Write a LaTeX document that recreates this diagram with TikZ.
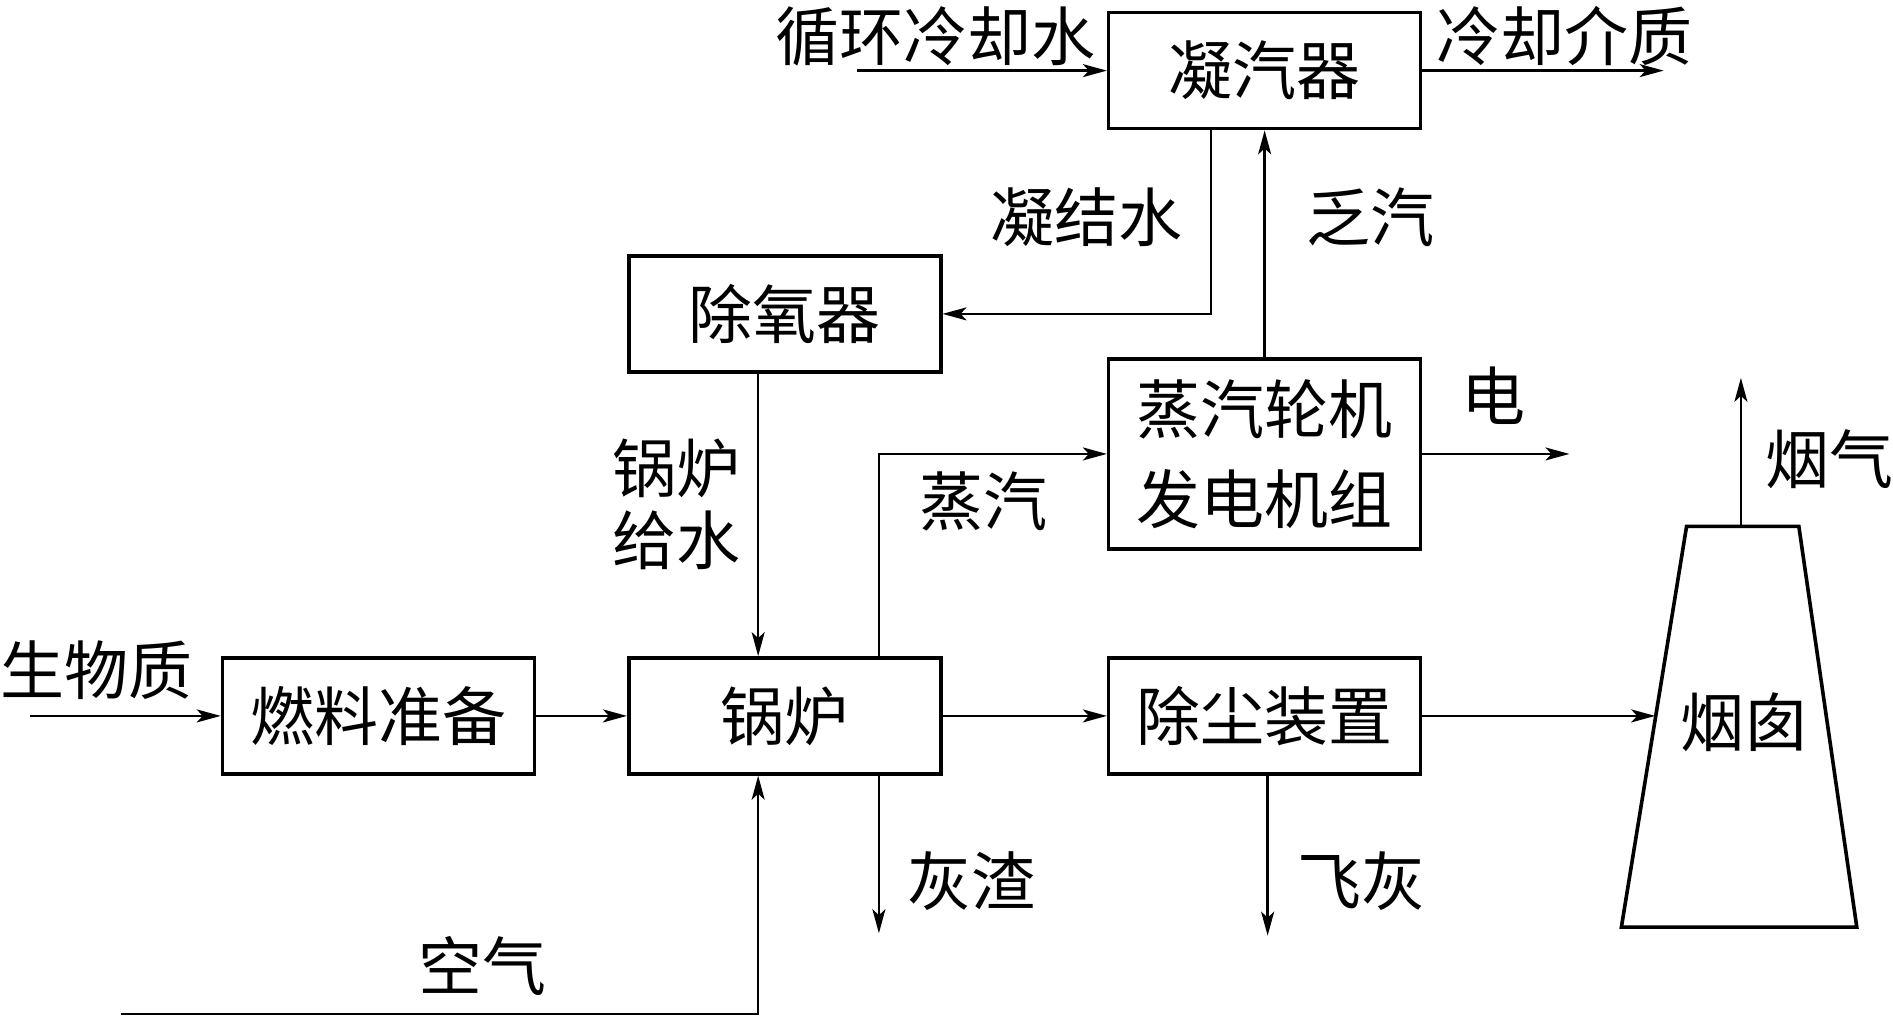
\documentclass[tikz,border=0pt]{standalone}
\usepackage{fontspec}
\setmainfont{Noto Sans CJK SC}
\usetikzlibrary{arrows.meta,calc}
\tikzset{
  box/.style={draw, line width=1.8pt, minimum width=156pt, minimum height=58pt, inner sep=0pt, align=center},
  lbl/.style={inner sep=0pt, align=center},
  conn/.style={line width=1.2pt},
  flow/.style={conn, -{Stealth[length=12pt,width=6.5pt,inset=3pt]}},
}
\begin{document}
\begin{tikzpicture}[x=0.6037pt, y=-0.6037pt, font=\fontsize{32}{45}\selectfont]
\useasboundingbox (0,0) rectangle (1568,846);
% boxes
\node[box] (cond) at (1047.5,58.5) {凝汽器};
\node[box] (deaer) at (650,260) {除氧器};
\node[box, minimum height=95pt] (turb) at (1047.5,376) {蒸汽轮机\\发电机组};
\node[box] (boiler) at (650,593) {锅炉};
\node[box] (fuel) at (313.5,593) {燃料准备};
\node[box] (dust) at (1047.5,593) {除尘装置};
% chimney
\coordinate (ctl) at (1397,436);
\coordinate (ctr) at (1490,436);
\coordinate (cbr) at (1538,768);
\coordinate (cbl) at (1343,768);
\draw[line width=1.8pt, line join=miter] (ctl) -- (ctr) -- (cbr) -- (cbl) -- cycle;
\node[lbl] (chim) at (1445,598) {烟囱};
\coordinate (chimin) at (1371,593);
\coordinate (chimtop) at (1442,436);
% free-end coordinates
\coordinate (cwin) at (710,58.5);
\coordinate (cmout) at (1378,58.5);
\coordinate (condx) at (1003,0);
\coordinate (feedx) at (628,0);
\coordinate (steamx) at (728,0);
\coordinate (ashx) at (1050,0);
\coordinate (elout) at (1300,376);
\coordinate (bioin) at (25,593);
\coordinate (smoke) at (1442,313);
\coordinate (ashout) at (728,773);
\coordinate (flyout) at (1050,775);
\coordinate (airin) at (100,840);
% connectors
\draw[flow] (cwin) -- (cond.west);
\draw[flow] (cond.east) -- (cmout);
\draw[flow] (cond.south -| condx) |- (deaer.east);
\draw[flow] (turb.north) -- (cond.south);
\draw[flow] (deaer.south -| feedx) -- (boiler.north -| feedx);
\draw[flow] (boiler.north -| steamx) |- (turb.west);
\draw[flow] (turb.east) -- (elout);
\draw[flow] (bioin) -- (fuel.west);
\draw[flow] (fuel.east) -- (boiler.west);
\draw[flow] (boiler.east) -- (dust.west);
\draw[flow] (dust.east) -- (chimin);
\draw[flow] (chimtop) -- (smoke);
\draw[flow] (boiler.south -| steamx) -- (ashout);
\draw[flow] (dust.south -| ashx) -- (flyout);
\draw[flow] (airin) -| (boiler.south -| feedx);
% labels
\node[lbl] (l1) at (775,30) {循环冷却水};
\node[lbl] (l2) at (1296,30) {冷却介质};
\node[lbl] (l3) at (900,180) {凝结水};
\node[lbl] (l4) at (1135,180) {乏汽};
\node[lbl] (l5) at (1237,328) {电};
\node[lbl, font=\fontsize{32}{36}\selectfont] (l6) at (560,418) {锅炉\\给水};
\node[lbl] (l7) at (815,415) {蒸汽};
\node[lbl] (l8) at (80,555) {生物质};
\node[lbl] (l9) at (1515,380) {烟气};
\node[lbl] (l10) at (805,730) {灰渣};
\node[lbl] (l11) at (1128,730) {飞灰};
\node[lbl] (l12) at (400,800) {空气};
\end{tikzpicture}
\end{document}
